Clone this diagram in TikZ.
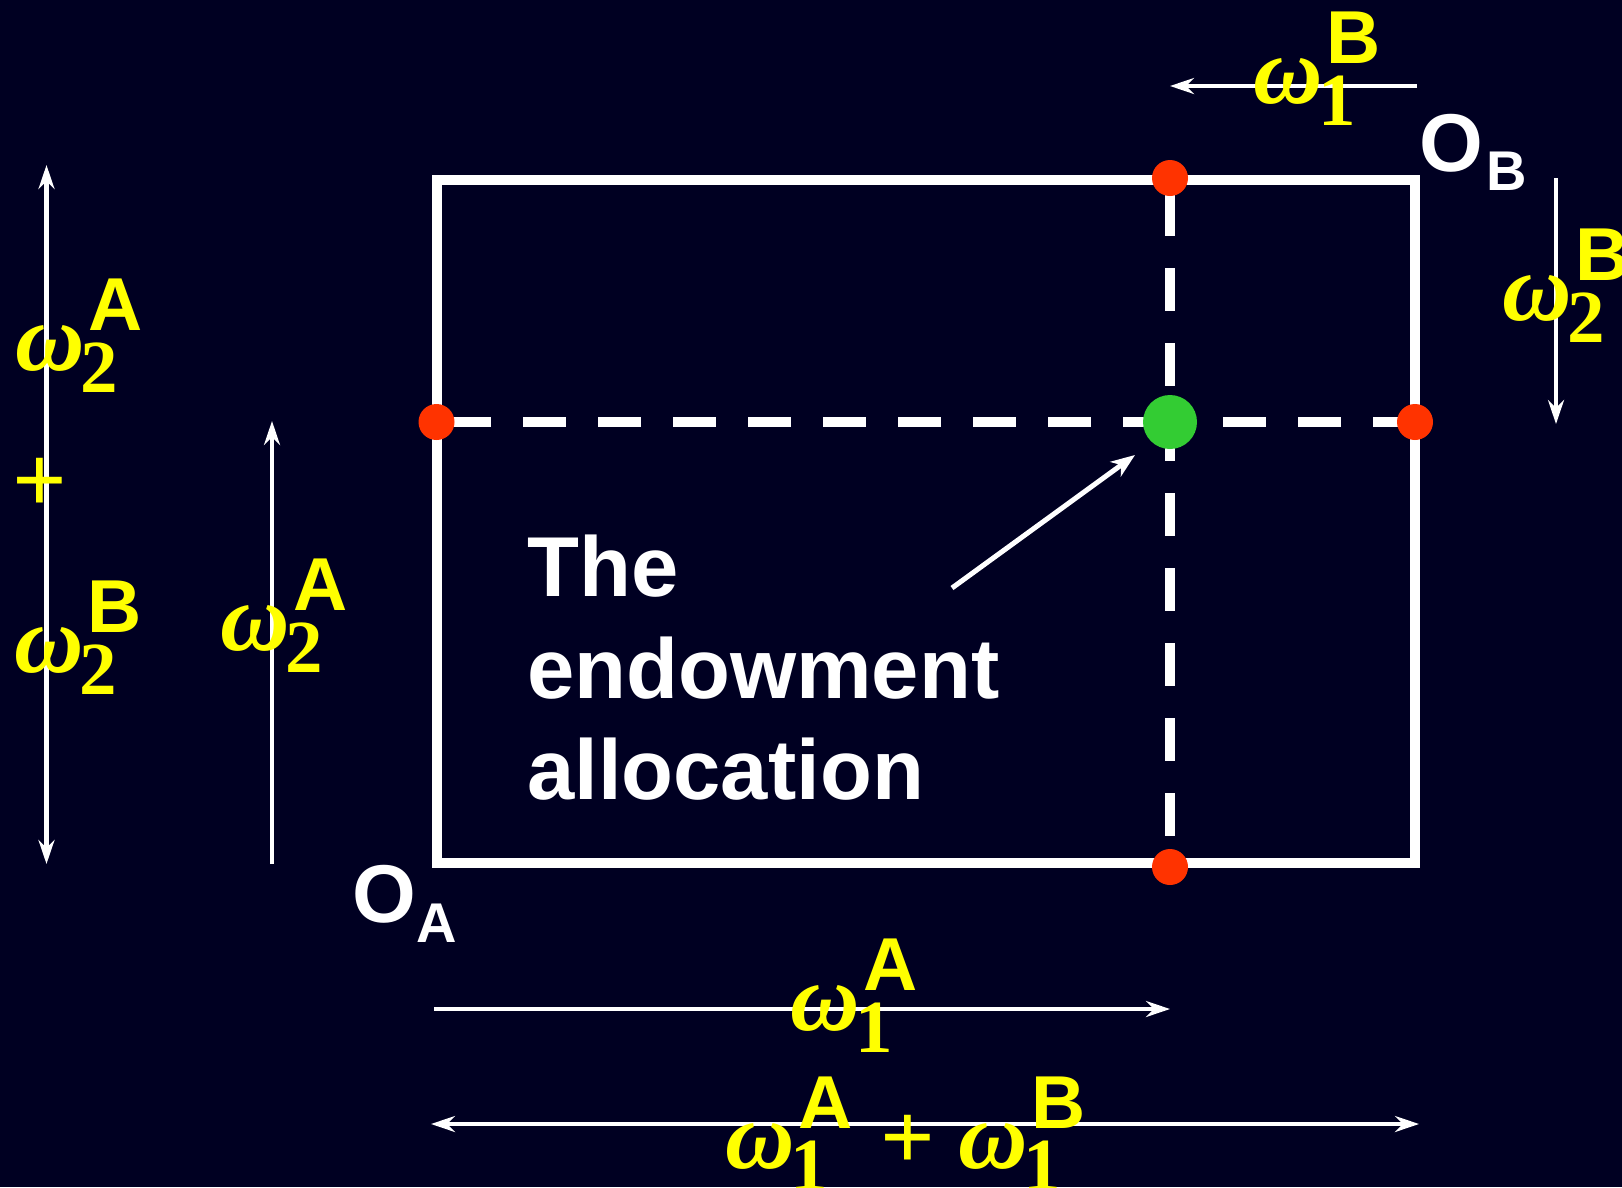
\documentclass[tikz,border=0pt]{standalone}
\usepackage{fontspec}
\setmainfont{Liberation Sans}
\newfontfamily\omfont{Liberation Serif}
\usetikzlibrary{arrows.meta,calc}
\definecolor{bg}{RGB}{0,0,34}
\definecolor{ylw}{RGB}{255,255,0}
\definecolor{rdot}{RGB}{255,51,0}
\definecolor{gdot}{RGB}{51,204,51}
\newcommand\omlab[5]{%
  \node[omg] (#1w) at (#2,#3) {ω};
  \node[subn] (#1s) at ($(#2,#3)+(65,22)$) {#4};
  \node[supn] (#1p) at ($(#2,#3)+(73,-40)$) {#5};
}
\tikzset{
  omg/.style={anchor=base west, inner sep=0pt, text=ylw, font=\omfont\bfseries\itshape\fontsize{96}{96}\selectfont},
  subn/.style={anchor=base west, inner sep=0pt, text=ylw, font=\omfont\bfseries\fontsize{75}{75}\selectfont},
  supn/.style={anchor=base west, inner sep=0pt, text=ylw, font=\bfseries\fontsize{75}{75}\selectfont},
  plusn/.style={anchor=center, inner sep=0pt, text=ylw, font=\omfont\bfseries\fontsize{96}{96}\selectfont},
  bigO/.style={anchor=base west, inner sep=0pt, text=white, font=\bfseries\fontsize{82}{82}\selectfont},
  smallO/.style={anchor=base west, inner sep=0pt, text=white, font=\bfseries\fontsize{56}{56}\selectfont},
  thinarrow/.style={draw=white, line width=4.5pt, -{Stealth[length=24pt,width=16pt,inset=8pt]}},
  dblarrow/.style={draw=white, line width=4.5pt, {Stealth[length=24pt,width=16pt,inset=8pt]}-{Stealth[length=24pt,width=16pt,inset=8pt]}},
  boxline/.style={draw=white, line width=10pt},
  dashline/.style={draw=white, line width=10pt, dash pattern=on 43pt off 32pt},
  reddot/.style={circle, fill=rdot, minimum size=36pt, inner sep=0pt},
  greendot/.style={circle, fill=gdot, minimum size=54pt, inner sep=0pt},
}
\begin{document}
\begin{tikzpicture}[x=1pt,y=-1pt]
\useasboundingbox (0,0) rectangle (1622,1187);
\fill[bg] (0,0) rectangle (1622,1187);
% box
\coordinate (bl) at (436.5,863);
\coordinate (tr) at (1415,180);
\draw[boxline] (bl) rectangle (tr);
% dashed lines
\coordinate (hL) at (436.5,422);
\coordinate (hM) at (1170,422);
\coordinate (hR) at (1415,422);
\coordinate (vT) at (1170,178);
\coordinate (vB) at (1170,867);
\draw[dashline, dash phase=63.2pt] (hL) -- (hM);
\draw[dashline, dash phase=22pt] (hM) -- (hR);
\draw[dashline, dash phase=60pt] (vT) -- (vB);
% dots
\node[reddot] (rT) at (1170,178) {};
\node[reddot] (rL) at (436.5,422) {};
\node[reddot] (rR) at (1415,422) {};
\node[reddot] (rB) at (1170,867) {};
\node[greendot] (gE) at (1170,422) {};
% text
\node[anchor=north west, inner sep=0pt, align=left, text=white, font=\bfseries\fontsize{85}{101.5}\selectfont] (txt) at (527,535) {The\\endowment\\allocation};
\coordinate (pA) at (952,588);
\coordinate (pB) at (1135,455);
\draw[draw=white, line width=5pt, -{Stealth[length=24pt,width=18pt,inset=7pt]}] (pA) -- (pB);
% origins
\node[bigO] (OA) at (352,922) {O};
\node[smallO] (OAs) at (416,942) {A};
\node[bigO] (OB) at (1419,171) {O};
\node[smallO] (OBs) at (1486,190) {B};
% arrows
\coordinate (t1) at (1417,86);
\coordinate (t2) at (1170,86);
\draw[thinarrow] (t1) -- (t2);
\coordinate (r1) at (1556,178);
\coordinate (r2) at (1556,424);
\draw[thinarrow] (r1) -- (r2);
\coordinate (l1) at (46.5,165);
\coordinate (l2) at (46.5,864);
\draw[dblarrow] (l1) -- (l2);
\coordinate (m1) at (272,864);
\coordinate (m2) at (272,421);
\draw[thinarrow] (m1) -- (m2);
\coordinate (b1) at (434,1009);
\coordinate (b2) at (1170,1009);
\draw[thinarrow] (b1) -- (b2);
\coordinate (s1) at (431,1124);
\coordinate (s2) at (1419,1124);
\draw[dblarrow] (s1) -- (s2);
% labels
\omlab{topB}{1253}{103}{1}{B}
\omlab{rightB}{1502}{320}{2}{B}
\omlab{leftA}{15}{370}{2}{A}
\node[plusn] (lplus) at (40,485) {+};
\omlab{leftB}{14}{672}{2}{B}
\omlab{midA}{220}{650}{2}{A}
\omlab{botA}{790}{1030}{1}{A}
\omlab{sumA}{725}{1168}{1}{A}
\node[plusn] (splus) at (908,1142) {+};
\omlab{sumB}{958}{1168}{1}{B}
\end{tikzpicture}
\end{document}
